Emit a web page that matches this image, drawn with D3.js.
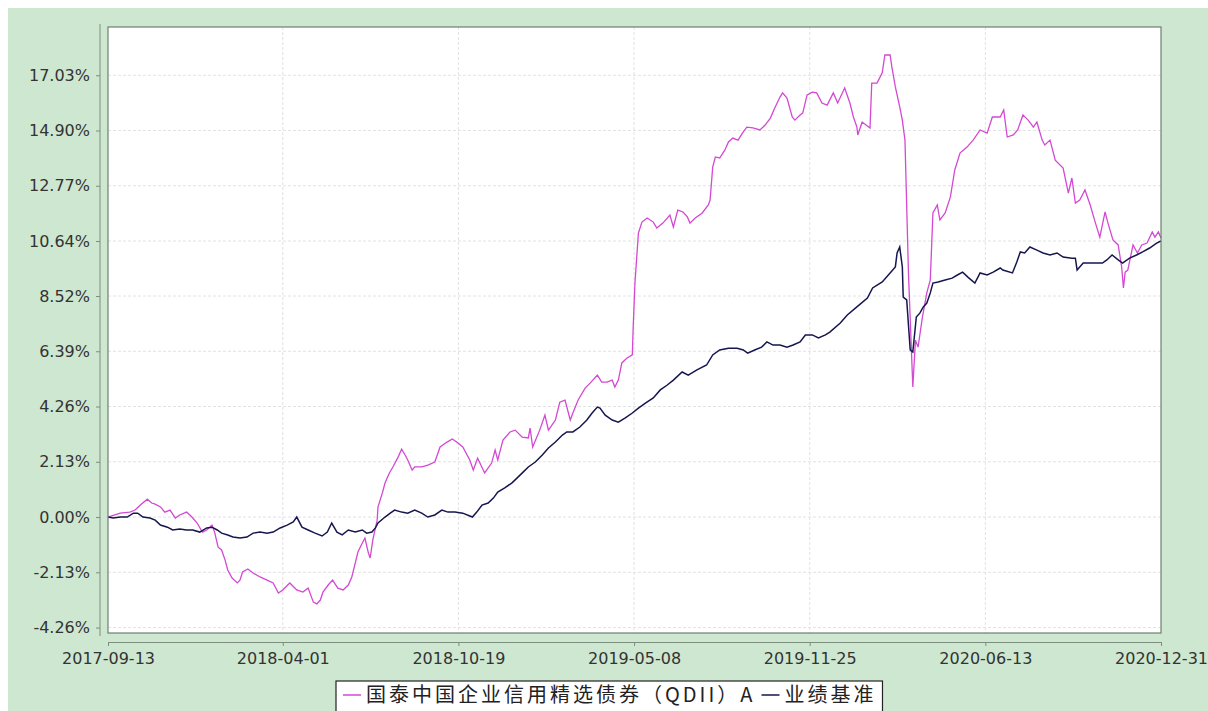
<!DOCTYPE html>
<html>
<head>
<meta charset="utf-8">
<script src="https://cdn.jsdelivr.net/npm/d3@7"></script>
<style>
  body { margin: 0; background: #fff; }
  svg { display: block; }
  .tick text { font-family: "DejaVu Sans", sans-serif; fill: #333; }
  .legend text { font-family: "Noto Sans CJK SC", sans-serif; font-size: 20px; letter-spacing: 3px; fill: #222; }
</style>
</head>
<body>
<svg id="chart" width="1208" height="711"></svg>
<script>
const seriesNames = ["国泰中国企业信用精选债券（QDII）A", "业绩基准"];

const xTickDates = ["2017-09-13","2018-04-01","2018-10-19","2019-05-08","2019-11-25","2020-06-13","2020-12-31"];
const yTickValues = [-4.26,-2.13,0,2.13,4.26,6.39,8.52,10.64,12.77,14.90,17.03];
const yTickLabels = ["-4.26%","-2.13%","0.00%","2.13%","4.26%","6.39%","8.52%","10.64%","12.77%","14.90%","17.03%"];

// fund: cumulative return (%)
const fundDates = [
  "2017-09-13","2017-09-27","2017-10-08","2017-10-14","2017-10-20","2017-10-28","2017-11-02","2017-11-06","2017-11-12","2017-11-17",
  "2017-11-23","2017-11-29","2017-12-04","2017-12-12","2017-12-18","2017-12-24","2017-12-30","2018-01-04","2018-01-10","2018-01-13",
  "2018-01-17","2018-01-21","2018-01-25","2018-01-28","2018-02-02","2018-02-08","2018-02-11","2018-02-14","2018-02-20","2018-02-26",
  "2018-03-06","2018-03-14","2018-03-21","2018-03-27","2018-04-01","2018-04-09","2018-04-17","2018-04-24","2018-04-30","2018-05-06",
  "2018-05-10","2018-05-14","2018-05-17","2018-05-23","2018-05-28","2018-06-03","2018-06-09","2018-06-15","2018-06-19","2018-06-23",
  "2018-06-26","2018-07-01","2018-07-04","2018-07-08","2018-07-10","2018-07-13","2018-07-18","2018-07-19","2018-07-24","2018-07-27",
  "2018-08-01","2018-08-05","2018-08-11","2018-08-15","2018-08-19","2018-08-22","2018-08-27","2018-08-30","2018-09-07","2018-09-14",
  "2018-09-22","2018-09-28","2018-10-06","2018-10-12","2018-10-17","2018-10-24","2018-11-01","2018-11-05","2018-11-10","2018-11-18",
  "2018-11-26","2018-11-30","2018-12-03","2018-12-09","2018-12-17","2018-12-23","2018-12-31","2019-01-07","2019-01-09","2019-01-12",
  "2019-01-20","2019-01-26","2019-01-30","2019-02-07","2019-02-12","2019-02-18","2019-02-24","2019-02-27","2019-03-05","2019-03-13",
  "2019-03-19","2019-03-27","2019-04-01","2019-04-07","2019-04-13","2019-04-16","2019-04-20","2019-04-24","2019-04-30","2019-05-06",
  "2019-05-07","2019-05-09","2019-05-13","2019-05-17","2019-05-23","2019-05-30","2019-06-03","2019-06-10","2019-06-18","2019-06-22",
  "2019-06-27","2019-07-03","2019-07-08","2019-07-11","2019-07-17","2019-07-25","2019-08-01","2019-08-03","2019-08-06","2019-08-09",
  "2019-08-14","2019-08-20","2019-08-24","2019-08-29","2019-09-04","2019-09-09","2019-09-14","2019-09-21","2019-09-29","2019-10-05",
  "2019-10-11","2019-10-16","2019-10-22","2019-10-25","2019-10-30","2019-11-05","2019-11-08","2019-11-14","2019-11-17","2019-11-22",
  "2019-11-28","2019-12-03","2019-12-09","2019-12-15","2019-12-22","2019-12-27","2020-01-04","2020-01-10","2020-01-14","2020-01-18",
  "2020-01-19","2020-01-24","2020-02-02","2020-02-04","2020-02-10","2020-02-16","2020-02-19","2020-02-25","2020-02-27","2020-03-02",
  "2020-03-07","2020-03-10","2020-03-13","2020-03-17","2020-03-22","2020-03-25","2020-03-28","2020-04-02","2020-04-07","2020-04-11",
  "2020-04-14","2020-04-19","2020-04-22","2020-04-28","2020-05-04","2020-05-09","2020-05-15","2020-05-23","2020-05-30","2020-06-07",
  "2020-06-15","2020-06-21","2020-06-30","2020-07-04","2020-07-08","2020-07-15","2020-07-20","2020-07-26","2020-08-01","2020-08-07",
  "2020-08-11","2020-08-17","2020-08-20","2020-08-26","2020-09-01","2020-09-10","2020-09-16","2020-09-20","2020-09-24","2020-09-29",
  "2020-10-05","2020-10-11","2020-10-17","2020-10-22","2020-10-28","2020-10-31","2020-11-06","2020-11-12","2020-11-16","2020-11-18",
  "2020-11-20","2020-11-23","2020-11-29","2020-12-04","2020-12-09","2020-12-15","2020-12-21","2020-12-24","2020-12-28","2020-12-31"
];
const fundValues = [
  0.00,0.15,0.19,0.27,0.46,0.69,0.54,0.50,0.39,0.19,
  0.27,-0.04,0.08,0.19,0.00,-0.23,-0.58,-0.50,-0.31,-0.58,
  -1.16,-1.27,-1.66,-2.04,-2.35,-2.54,-2.43,-2.12,-2.00,-2.16,
  -2.31,-2.43,-2.54,-2.93,-2.81,-2.54,-2.81,-2.89,-2.74,-3.28,
  -3.35,-3.20,-2.89,-2.62,-2.43,-2.74,-2.81,-2.62,-2.31,-1.77,
  -1.35,-1.00,-0.81,-1.39,-1.58,-0.89,-0.12,0.39,0.93,1.31,
  1.70,1.93,2.31,2.62,2.39,2.20,1.81,1.93,1.93,2.00,
  2.12,2.70,2.89,3.01,2.89,2.70,2.20,1.81,2.27,1.70,
  2.08,2.58,2.20,2.97,3.28,3.35,3.08,3.05,3.43,2.70,
  3.35,3.93,3.35,3.74,4.43,4.51,3.74,4.01,4.51,4.97,
  5.17,5.47,5.20,5.20,5.28,5.01,5.28,5.94,6.13,6.25,
  7.32,9.02,10.95,11.37,11.53,11.37,11.14,11.33,11.64,11.18,
  11.83,11.76,11.57,11.33,11.53,11.72,12.03,12.22,13.49,13.88,
  13.84,14.15,14.46,14.61,14.53,14.80,15.03,15.00,14.92,15.11,
  15.38,15.77,16.19,16.35,16.15,15.42,15.30,15.50,15.57,16.27,
  16.38,16.35,15.96,15.88,16.35,15.96,16.54,15.96,15.42,15.03,
  14.73,15.23,15.00,16.73,16.73,17.12,17.81,17.81,17.35,16.58,
  15.81,15.30,14.53,9.41,5.01,6.82,6.55,7.71,8.64,9.14,
  11.72,12.03,11.45,11.72,12.34,13.38,14.03,14.26,14.53,14.92,
  14.80,15.42,15.42,15.69,14.65,14.73,14.92,15.50,15.30,15.03,
  15.23,14.53,14.34,14.53,13.76,13.45,12.49,13.07,12.10,12.22,
  12.61,12.03,11.33,10.79,11.76,11.37,10.68,10.49,9.64,8.83,
  9.44,9.52,10.49,10.18,10.49,10.56,10.99,10.79,10.99,10.76
];

// benchmark: cumulative return (%)
const benchDates = [
  "2017-09-13","2017-09-19","2017-09-27","2017-10-05","2017-10-12","2017-10-17","2017-10-23","2017-10-31","2017-11-06","2017-11-12",
  "2017-11-20","2017-11-26","2017-12-04","2017-12-12","2017-12-19","2017-12-27","2018-01-04","2018-01-10","2018-01-16","2018-01-21",
  "2018-01-28","2018-02-03","2018-02-11","2018-02-19","2018-02-26","2018-03-06","2018-03-14","2018-03-21","2018-03-29","2018-04-06",
  "2018-04-13","2018-04-17","2018-04-23","2018-04-30","2018-05-08","2018-05-16","2018-05-22","2018-05-27","2018-06-02","2018-06-08",
  "2018-06-15","2018-06-23","2018-07-01","2018-07-06","2018-07-12","2018-07-16","2018-07-19","2018-07-27","2018-08-02","2018-08-07",
  "2018-08-15","2018-08-22","2018-08-30","2018-09-07","2018-09-14","2018-09-22","2018-09-30","2018-10-07","2018-10-15","2018-10-24",
  "2018-11-01","2018-11-04","2018-11-09","2018-11-15","2018-11-22","2018-11-28","2018-12-03","2018-12-11","2018-12-19","2018-12-25",
  "2019-01-01","2019-01-07","2019-01-15","2019-01-23","2019-01-30","2019-02-07","2019-02-15","2019-02-20","2019-02-27","2019-03-07",
  "2019-03-15","2019-03-21","2019-03-27","2019-03-30","2019-04-05","2019-04-13","2019-04-20","2019-04-28","2019-05-06","2019-05-13",
  "2019-05-21","2019-05-30","2019-06-07","2019-06-15","2019-06-22","2019-07-02","2019-07-09","2019-07-19","2019-07-30","2019-08-06",
  "2019-08-14","2019-08-24","2019-09-03","2019-09-10","2019-09-15","2019-09-23","2019-10-01","2019-10-07","2019-10-14","2019-10-22",
  "2019-10-30","2019-11-06","2019-11-14","2019-11-20","2019-11-28","2019-12-05","2019-12-13","2019-12-18","2019-12-30","2020-01-07",
  "2020-01-18","2020-01-30","2020-02-05","2020-02-16","2020-02-25","2020-03-02","2020-03-04","2020-03-07","2020-03-10","2020-03-11",
  "2020-03-15","2020-03-19","2020-03-22","2020-03-26","2020-03-30","2020-04-03","2020-04-07","2020-04-11","2020-04-14","2020-04-20",
  "2020-04-28","2020-05-06","2020-05-12","2020-05-18","2020-05-24","2020-06-01","2020-06-07","2020-06-15","2020-06-22","2020-06-30",
  "2020-07-03","2020-07-14","2020-07-19","2020-07-23","2020-07-28","2020-08-03","2020-08-11","2020-08-18","2020-08-26","2020-09-03",
  "2020-09-10","2020-09-20","2020-09-24","2020-09-26","2020-10-03","2020-10-14","2020-10-25","2020-10-30","2020-11-05","2020-11-12",
  "2020-11-17","2020-11-25","2020-12-03","2020-12-10","2020-12-18","2020-12-26","2020-12-31"
];
const benchValues = [
  0.00,-0.04,0.00,0.00,0.15,0.15,0.00,-0.04,-0.12,-0.31,
  -0.39,-0.50,-0.46,-0.50,-0.50,-0.58,-0.42,-0.39,-0.50,-0.62,
  -0.69,-0.77,-0.81,-0.77,-0.62,-0.58,-0.62,-0.58,-0.42,-0.31,
  -0.19,0.00,-0.39,-0.50,-0.62,-0.73,-0.58,-0.23,-0.58,-0.69,
  -0.50,-0.58,-0.50,-0.62,-0.58,-0.42,-0.23,0.00,0.15,0.27,
  0.19,0.15,0.27,0.15,0.00,0.08,0.27,0.19,0.19,0.15,
  0.04,0.00,0.19,0.46,0.54,0.73,0.96,1.12,1.31,1.50,
  1.73,1.93,2.12,2.39,2.66,2.89,3.16,3.28,3.28,3.47,
  3.74,4.01,4.24,4.20,3.93,3.74,3.66,3.82,4.01,4.20,
  4.39,4.59,4.90,5.09,5.28,5.59,5.47,5.67,5.86,6.25,
  6.44,6.51,6.51,6.44,6.32,6.44,6.55,6.75,6.63,6.63,
  6.55,6.63,6.75,7.02,7.02,6.90,7.02,7.13,7.48,7.79,
  8.10,8.44,8.83,9.06,9.41,9.64,10.18,10.41,9.64,8.48,
  8.37,6.44,6.36,7.71,7.86,8.10,8.25,8.64,9.02,9.06,
  9.14,9.21,9.33,9.44,9.25,9.02,9.41,9.33,9.44,9.60,
  9.52,9.41,9.83,10.22,10.18,10.41,10.29,10.18,10.10,10.18,
  10.02,9.98,9.98,9.52,9.79,9.79,9.79,9.91,10.10,9.91,
  9.79,9.98,10.10,10.22,10.37,10.56,10.64
];

const colors = ["#d448d4", "#16164e"];

const svg = d3.select("#chart");
const W = 1208, H = 711;
const plotL = 108, plotR = 1161, plotT = 27, plotB = 633;
const parse = d3.timeParse("%Y-%m-%d");

// background panel
svg.append("rect").attr("x", 8).attr("y", 8).attr("width", W - 8).attr("height", H - 8).attr("fill", "#cee7d0");
svg.append("rect").attr("x", plotL).attr("y", plotT).attr("width", plotR - plotL).attr("height", plotB - plotT).attr("fill", "#fff");

const x = d3.scaleTime().domain([parse(xTickDates[0]), parse(xTickDates[xTickDates.length - 1])]).range([plotL, plotR]);
const y = d3.scaleLinear().domain([-4.47, 18.89]).range([plotB, plotT]);

// grid
svg.append("g").selectAll("line").data(yTickValues).join("line")
  .attr("x1", plotL).attr("x2", plotR)
  .attr("y1", d => y(d)).attr("y2", d => y(d))
  .attr("stroke", "#e2e2e2").attr("stroke-dasharray", "3,2");
svg.append("g").selectAll("line").data(xTickDates.slice(1, -1)).join("line")
  .attr("x1", d => x(parse(d))).attr("x2", d => x(parse(d)))
  .attr("y1", plotT).attr("y2", plotB)
  .attr("stroke", "#e2e2e2").attr("stroke-dasharray", "3,2");

// lines
const line = d3.line().x(d => x(d[0])).y(d => y(d[1]));
const fund = fundDates.map((d, i) => [parse(d), fundValues[i]]);
const bench = benchDates.map((d, i) => [parse(d), benchValues[i]]);

svg.append("path").datum(fund).attr("d", line)
  .attr("fill", "none").attr("stroke", colors[0]).attr("stroke-width", 1.3);
svg.append("path").datum(bench).attr("d", line)
  .attr("fill", "none").attr("stroke", colors[1]).attr("stroke-width", 1.5);

// plot frame
svg.append("rect").attr("x", plotL).attr("y", plotT).attr("width", plotR - plotL).attr("height", plotB - plotT)
  .attr("fill", "none").attr("stroke", "#6f7f70").attr("stroke-width", 1.2);

// y axis
const yAxis = svg.append("g").attr("transform", "translate(100,0)")
  .call(d3.axisLeft(y).tickValues(yTickValues).tickFormat((d, i) => yTickLabels[i]).tickSize(4).tickSizeOuter(0).tickPadding(6));
yAxis.selectAll("text").style("font-size", "16px");
yAxis.select(".domain").attr("d", "M0,24V636").attr("stroke", "#7d8d7e");
yAxis.selectAll(".tick line").attr("stroke", "#7d8d7e");

// x axis
const xAxis = svg.append("g").attr("transform", "translate(0,642)")
  .call(d3.axisBottom(x).tickValues(xTickDates.map(parse)).tickFormat((d, i) => xTickDates[i]).tickSize(4).tickSizeOuter(0).tickPadding(7));
xAxis.selectAll("text").style("font-size", "16px");
xAxis.select(".domain").attr("stroke", "#7d8d7e");
xAxis.selectAll(".tick line").attr("stroke", "#7d8d7e");

// legend
const lgLeft = 336, lgTop = 681;
const lg = svg.append("g").attr("class", "legend");
const box = lg.append("rect").attr("x", lgLeft).attr("y", lgTop).attr("height", 34)
  .attr("fill", "#fff").attr("stroke", "#222").attr("stroke-width", 1.2);
let cx = lgLeft + 7;
seriesNames.forEach((name, i) => {
  lg.append("line").attr("x1", cx).attr("x2", cx + 18).attr("y1", lgTop + 14).attr("y2", lgTop + 14)
    .attr("stroke", colors[i]).attr("stroke-width", 1.5);
  const t = lg.append("text").attr("x", cx + 23).attr("y", lgTop + 21).text(name);
  cx += 23 + t.node().getComputedTextLength() + 6;
});
box.attr("width", cx - lgLeft);
</script>
</body>
</html>
